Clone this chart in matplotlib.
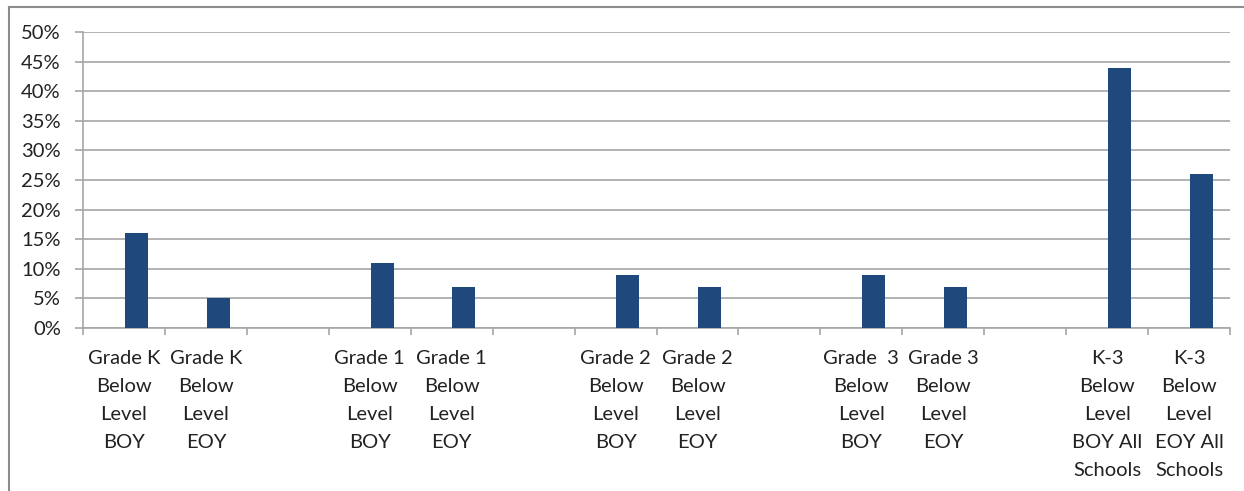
import matplotlib
matplotlib.use("Agg")
import matplotlib.pyplot as plt
from matplotlib.lines import Line2D
from matplotlib.ticker import FuncFormatter, MultipleLocator

plt.rcParams['font.family'] = ['Lato', 'DejaVu Sans']

# categories (empty strings are the spacer slots between grades)
labels = [
    "Grade K\nBelow\nLevel\nBOY", "Grade K\nBelow\nLevel\nEOY", "",
    "Grade 1\nBelow\nLevel\nBOY", "Grade 1\nBelow\nLevel\nEOY", "",
    "Grade 2\nBelow\nLevel\nBOY", "Grade 2\nBelow\nLevel\nEOY", "",
    "Grade  3\nBelow\nLevel\nBOY", "Grade 3\nBelow\nLevel\nEOY", "",
    "K-3\nBelow\nLevel\nBOY All\nSchools", "K-3\nBelow\nLevel\nEOY All\nSchools",
]
values = [0.16, 0.05, 0, 0.11, 0.07, 0, 0.09, 0.07, 0, 0.09, 0.07, 0, 0.44, 0.26]

bar_color = "#1F497D"
grid_color = "#A6A6A6"
text_color = "#222222"

fig = plt.figure(figsize=(12.44, 4.91), dpi=100)
ax = fig.add_axes([83 / 1244, 1 - 328 / 491, (1230 - 83) / 1244, (328 - 32) / 491])

x = list(range(len(labels)))
# bars sit right of centre, like the second series of an Excel cluster
ax.bar([i + 0.15 for i in x], values, width=0.28, color=bar_color, zorder=3)

ax.set_xlim(-0.5, len(labels) - 0.5)
ax.set_ylim(0, 0.5)
ax.yaxis.set_major_locator(MultipleLocator(0.05))
ax.yaxis.set_major_formatter(FuncFormatter(lambda v, p: "%d%%" % round(v * 100)))
ax.grid(axis="y", color=grid_color, linewidth=1.2, zorder=0)

# category labels centred on the slots, ticks on slot boundaries
ax.set_xticks(x)
ax.set_xticklabels(labels, fontsize=14.5, color=text_color, linespacing=1.78)
ax.tick_params(axis="x", length=0, pad=16)
ax.set_xticks([i - 0.5 for i in range(len(labels) + 1)], minor=True)
ax.tick_params(axis="x", which="minor", length=5, color=grid_color, width=1.2)
ax.tick_params(axis="y", length=6, color=grid_color, width=1.2, labelsize=14.5,
               labelcolor=text_color, pad=10)

for s in ["top", "right"]:
    ax.spines[s].set_visible(False)
for s in ["left", "bottom"]:
    ax.spines[s].set_color(grid_color)
    ax.spines[s].set_linewidth(1.2)

# outer chart border (left and top edges visible)
fig.add_artist(Line2D([9 / 1244, 9 / 1244], [0, 1 - 7 / 491], color="#8C8C8C", linewidth=1.5))
fig.add_artist(Line2D([9 / 1244, 1], [1 - 7 / 491, 1 - 7 / 491], color="#8C8C8C", linewidth=1.5))

fig.savefig("out.png", dpi=100)
